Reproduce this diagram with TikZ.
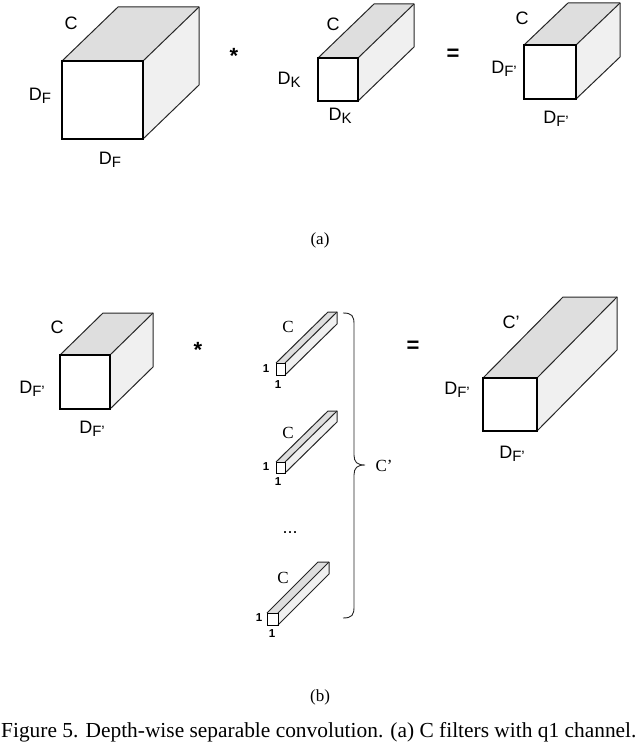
\documentclass[tikz,border=0pt]{standalone}
\usepackage{fontspec}
\setmainfont{Liberation Serif}
\setsansfont{Liberation Sans}
\begin{document}
\begin{tikzpicture}[x=1pt,y=-1pt,
  topface/.style={fill=black!13},
  sideface/.style={fill=black!6},
  backedge/.style={draw=black!85,line width=1pt,line join=round},
  frontedge/.style={draw=black,line join=miter},
  lab/.style={font=\sffamily\fontsize{18}{18}\selectfont,inner sep=0pt},
  serlab/.style={font=\rmfamily\fontsize{17}{17}\selectfont,inner sep=0pt},
  one/.style={font=\sffamily\bfseries\fontsize{11.5}{11.5}\selectfont,inner sep=0pt},
  op/.style={font=\sffamily\bfseries\fontsize{22}{22}\selectfont,inner sep=0pt},
  captxt/.style={font=\rmfamily\fontsize{17}{17}\selectfont,inner sep=0pt}]
\useasboundingbox (0,0) rectangle (640,743);
\clip (0,0) rectangle (640,743);
\newcommand\drawcube[7]{%
  \fill[topface] (#1,#2) -- ++(#5,-#6) -- ++(#3,0) -- ++(-#5,#6) -- cycle;
  \fill[sideface] (#1+#3,#2) -- ++(#5,-#6) -- ++(0,#4) -- ++(-#5,#6) -- cycle;
  \fill[white] (#1,#2) rectangle ++(#3,#4);
  \draw[backedge] (#1,#2) -- ++(#5,-#6) -- ++(#3,0) -- ++(0,#4) -- ++(-#5,#6);
  \draw[backedge] (#1+#3,#2) -- ++(#5,-#6);
  \draw[frontedge,line width=#7] (#1,#2) rectangle ++(#3,#4);
}
\newcommand\Dsub[1]{D\raisebox{-0.35ex}{\fontsize{15}{15}\selectfont #1}}
% ---- (a) ----
\drawcube{62}{61}{81}{78}{56}{54}{2.2pt}
\node[lab] (c1) at (71,23) {C};
\node[lab] (d1l) at (40,96) {\Dsub{F}};
\node[lab] (d1b) at (110,160) {\Dsub{F}};
\node[op] (star1) at (234,56) {*};
\drawcube{318}{58}{40}{43}{56}{54}{2pt}
\node[lab] (c2) at (333,24) {C};
\node[lab] (d2l) at (289,80) {\Dsub{K}};
\node[lab] (d2b) at (340,116) {\Dsub{K}};
\node[op] (eq1) at (453,55) {=};
\drawcube{524}{45}{52}{54}{44}{42}{1.6pt}
\node[lab] (c3) at (522,18) {C};
\node[lab] (d3l) at (504,69) {\Dsub{F'}};
\node[lab] (d3b) at (556,119) {\Dsub{F'}};
\node[captxt] (la) at (320,240) {(a)};
% ---- (b) ----
\drawcube{60}{355}{50}{54}{43}{42}{1.6pt}
\node[lab] (c4) at (57,327) {C};
\node[lab] (d4l) at (32,389) {\Dsub{F'}};
\node[lab] (d4b) at (92,429) {\Dsub{F'}};
\node[op] (star2) at (198,350) {*};
\drawcube{276}{363}{9}{12}{52}{51}{1pt}
\node[serlab] (cb1) at (288,327) {C};
\node[one] (ob1l) at (266,369) {1};
\node[one] (ob1b) at (278,385) {1};
\drawcube{276}{462}{9}{11}{52}{51}{1pt}
\node[serlab] (cb2) at (288,433) {C};
\node[one] (ob2l) at (266,467) {1};
\node[one] (ob2b) at (278,482) {1};
\node[lab] (dots) at (290,533) {...};
\drawcube{267}{613}{11}{12}{51}{51}{1pt}
\node[serlab] (cb3) at (283,578) {C};
\node[one] (ob3l) at (259,618) {1};
\node[one] (ob3b) at (272,634) {1};
\coordinate (bt) at (343,313);
\coordinate (bm) at (365,465);
\coordinate (bb) at (343,618);
\draw[line width=0.9pt,black!85] (bt) .. controls (352,313) and (354,316) .. (354,324)
  -- (354,455) .. controls (354,462) and (357,465) .. (bm)
  .. controls (357,465) and (354,468) .. (354,475)
  -- (354,607) .. controls (354,615) and (352,618) .. (bb);
\node[serlab] (cp) at (384,466) {C'};
\node[op] (eq2) at (413,347) {=};
\drawcube{483}{378}{54}{53}{80}{81}{1.4pt}
\node[lab] (c5) at (511,322) {C'};
\node[lab] (d5l) at (457,390) {\Dsub{F'}};
\node[lab] (d5b) at (512,454) {\Dsub{F'}};
\node[captxt] (lb) at (320,697) {(b)};
\node[captxt,font=\rmfamily\fontsize{21.4}{21.4}\selectfont,anchor=base west] (caption) at (1,737.5) {Figure 5. Depth-wise separable convolution. (a) C filters with q1 channel.};
\end{tikzpicture}
\end{document}
